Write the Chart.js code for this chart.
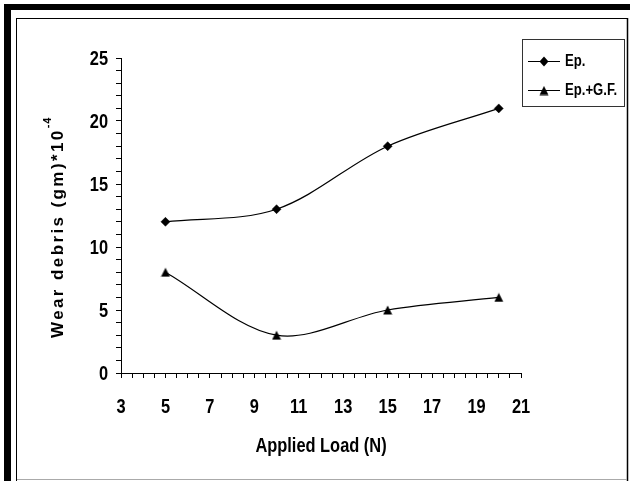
<!DOCTYPE html>
<html lang="en">
  <head>
    <meta charset="UTF-8" />
    <title>Wear debris vs Applied Load</title>
    <script src="https://cdn.jsdelivr.net/npm/chart.js"></script>
    <style>
      html, body { margin: 0; padding: 0; background: #fff; }
      #wrap { width: 630px; height: 481px; position: relative; }
    </style>
  </head>
  <body>
    <div id="wrap"><canvas id="graph"></canvas></div>

    <script>
      // values
      const loads = [5, 10, 15, 20];
      const epWear = [12, 13, 18, 21];
      const epGfWear = [8, 3, 5, 6];
      const seriesNames = ["Ep.", "Ep.+G.F."];
      const xTitle = "Applied Load (N)";
      const yTitle = "Wear debris (gm)*10";
      const yTitleSup = "-4";

      const wide = "'Liberation Sans', Arial, sans-serif";

      // no Arial Narrow here, so squeeze Liberation Sans bold instead
      function drawNarrow(ctx, text, x, y, align) {
        ctx.save();
        ctx.translate(x, y);
        ctx.scale(0.82, 1);
        ctx.textAlign = align;
        ctx.fillText(text, 0, 0);
        ctx.restore();
      }

      // filled triangle marker, centred on the point like Excel's
      const tri = document.createElement("canvas");
      tri.width = 10;
      tri.height = 10;
      const tctx = tri.getContext("2d");
      tctx.fillStyle = "#000";
      tctx.beginPath();
      tctx.moveTo(5, 0.5);
      tctx.lineTo(9.5, 9.5);
      tctx.lineTo(0.5, 9.5);
      tctx.closePath();
      tctx.fill();

      const decoPlugin = {
        id: "deco",
        beforeDraw(chart) {
          // page frame
          const { ctx } = chart;
          ctx.save();
          ctx.fillStyle = "#fff";
          ctx.fillRect(0, 0, 630, 481);
          ctx.fillStyle = "#000";
          ctx.fillRect(4, 4, 626, 6);
          ctx.fillRect(4, 4, 7, 477);
          ctx.strokeStyle = "#000";
          ctx.lineWidth = 1;
          ctx.beginPath();
          ctx.moveTo(16.5, 18);
          ctx.lineTo(16.5, 481);
          ctx.moveTo(16, 18.5);
          ctx.lineTo(628, 18.5);
          ctx.stroke();
          ctx.lineWidth = 1.5;
          ctx.beginPath();
          ctx.moveTo(627.5, 18);
          ctx.lineTo(627.5, 481);
          ctx.stroke();
          ctx.strokeStyle = "#aaa";
          ctx.lineWidth = 1;
          ctx.beginPath();
          ctx.moveTo(17, 479.5);
          ctx.lineTo(627, 479.5);
          ctx.stroke();
          ctx.restore();
        },
        afterDraw(chart) {
          const { ctx } = chart;
          const xs = chart.scales.x;
          const ys = chart.scales.y;

          // tick labels and x title, from the scales' own ticks
          ctx.save();
          ctx.fillStyle = "#000";
          ctx.font = "bold 20px " + wide;
          ctx.textBaseline = "alphabetic";
          xs.ticks.forEach((t) => {
            if (t.label !== "") drawNarrow(ctx, String(t.label), xs.getPixelForValue(t.value), 413, "center");
          });
          ys.ticks.forEach((t) => {
            if (t.label !== "") drawNarrow(ctx, String(t.label), 108, ys.getPixelForValue(t.value) + 7, "right");
          });
          drawNarrow(ctx, xTitle, (xs.left + xs.right) / 2, 452, "center");
          ctx.restore();

          // y title with spaced letters and a superscript
          ctx.save();
          ctx.translate(63, 338);
          ctx.rotate(-Math.PI / 2);
          ctx.fillStyle = "#000";
          ctx.font = "bold 17px " + wide;
          ctx.letterSpacing = "2.4px";
          ctx.textBaseline = "alphabetic";
          ctx.textAlign = "left";
          ctx.fillText(yTitle, 0, 0);
          const w = ctx.measureText(yTitle).width;
          ctx.font = "bold 11px " + wide;
          ctx.letterSpacing = "1px";
          ctx.fillText(yTitleSup, w, -12);
          ctx.restore();

          // legend
          ctx.save();
          ctx.strokeStyle = "#333";
          ctx.lineWidth = 1;
          ctx.strokeRect(522.5, 39.5, 102, 67);
          const rows = [61, 90];
          ctx.font = "bold 16px " + wide;
          ctx.textBaseline = "middle";
          ctx.fillStyle = "#000";
          chart.data.datasets.forEach((ds, i) => {
            const y = rows[i];
            ctx.strokeStyle = "#000";
            ctx.beginPath();
            ctx.moveTo(528, y + 0.5);
            ctx.lineTo(560, y + 0.5);
            ctx.stroke();
            if (ds.pointStyle === "rectRot") {
              ctx.beginPath();
              ctx.moveTo(544, y - 4.5);
              ctx.lineTo(548.5, y + 0.5);
              ctx.lineTo(544, y + 5.5);
              ctx.lineTo(539.5, y + 0.5);
              ctx.closePath();
              ctx.fill();
            } else {
              ctx.drawImage(tri, 539, y - 4.5);
            }
            drawNarrow(ctx, ds.label, 565, y + 1, "left");
          });
          ctx.restore();
        },
      };

      Chart.register(decoPlugin);

      const toPoints = (ys) => loads.map((x, i) => ({ x, y: ys[i] }));

      new Chart(document.getElementById("graph").getContext("2d"), {
        type: "line",
        data: {
          datasets: [
            {
              label: seriesNames[0],
              data: toPoints(epWear),
              borderColor: "#000",
              backgroundColor: "#000",
              borderWidth: 1.2,
              pointStyle: "rectRot",
              pointRadius: 4.5,
              pointBorderWidth: 0.5,
              tension: 0.33,
            },
            {
              label: seriesNames[1],
              data: toPoints(epGfWear),
              borderColor: "#000",
              backgroundColor: "#000",
              borderWidth: 1.2,
              pointStyle: tri,
              pointRadius: 5,
              tension: 0.33,
            },
          ],
        },
        options: {
          responsive: true,
          maintainAspectRatio: false,
          animation: false,
          layout: { padding: { top: 58, right: 109, left: 0, bottom: 0 } },
          plugins: {
            legend: { display: false },
            tooltip: { enabled: false },
          },
          scales: {
            x: {
              type: "linear",
              min: 3,
              max: 21,
              afterFit(scale) {
                scale.height = 108;
              },
              ticks: {
                display: false,
                stepSize: 0.5,
                autoSkip: false,
                maxRotation: 0,
                callback: (v) => (Number.isInteger(v) && v % 2 === 1 ? v : ""),
              },
              grid: {
                drawOnChartArea: false,
                drawTicks: true,
                tickLength: 5,
                color: "#000",
              },
              border: { color: "#000", width: 1 },
            },
            y: {
              min: 0,
              max: 25,
              afterFit(scale) {
                scale.width = 121;
              },
              ticks: {
                display: false,
                stepSize: 1,
                autoSkip: false,
                callback: (v) => (v % 5 === 0 ? v : ""),
              },
              grid: {
                drawOnChartArea: false,
                drawTicks: true,
                tickLength: 5,
                color: "#000",
              },
              border: { color: "#000", width: 1 },
            },
          },
        },
      });
    </script>
  </body>
</html>
